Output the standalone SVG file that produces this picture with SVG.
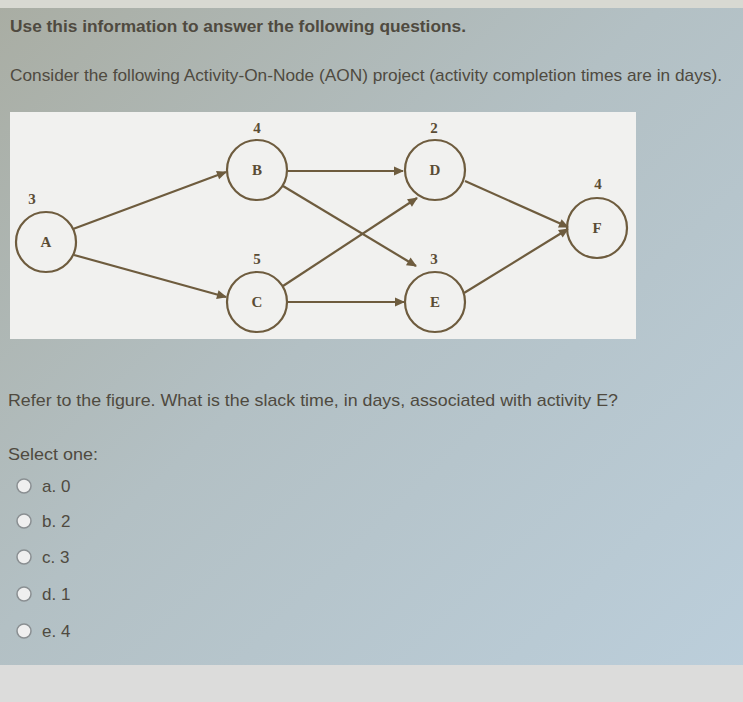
<svg xmlns="http://www.w3.org/2000/svg" width="743" height="702" viewBox="0 0 743 702">
<defs>
<linearGradient id="bg" x1="0" y1="0" x2="1" y2="1">
<stop offset="0" stop-color="#a9ada3"/>
<stop offset="0.45" stop-color="#b3c0c4"/>
<stop offset="1" stop-color="#bccfdc"/>
</linearGradient>
<marker id="ah" viewBox="0 0 10 10" refX="9" refY="5" markerWidth="11" markerHeight="10" markerUnits="userSpaceOnUse" orient="auto">
<path d="M0,0.5 L10,5 L0,9.5 z" fill="#6e5c3e"/>
</marker>
<style>
.t{font-family:"Liberation Sans",Arial,sans-serif;fill:#4f4a40}
.nd{fill:none;stroke:#6e5c3e;stroke-width:2.2}
.lb{font-family:"Liberation Serif","Times New Roman",serif;font-size:15px;font-weight:bold;fill:#5a4c34;text-anchor:middle}
.cn line{stroke:#6e5c3e;stroke-width:2.2;marker-end:url(#ah)}
.rd{fill:#efefef;stroke:#8a8f92;stroke-width:1.5}
</style>
</defs>
<rect width="743" height="702" fill="url(#bg)"/>
<rect x="0" y="0" width="743" height="8" fill="#d8d9d2"/>
<rect x="0" y="665" width="743" height="37" fill="#dcdcdb"/>
<text class="t" x="10" y="32" font-size="17" font-weight="bold" textLength="456" lengthAdjust="spacingAndGlyphs">Use this information to answer the following questions.</text>
<text class="t" x="10" y="81" font-size="17" textLength="712" lengthAdjust="spacingAndGlyphs">Consider the following Activity-On-Node (AON) project (activity completion times are in days).</text>
<rect x="10" y="112" width="626" height="227" fill="#f1f1ef"/>
<g class="cn">
<line x1="73" y1="229" x2="226" y2="172"/>
<line x1="74" y1="255" x2="226" y2="297"/>
<line x1="288" y1="171" x2="403" y2="171"/>
<line x1="283" y1="186" x2="416" y2="266"/>
<line x1="283" y1="286" x2="417" y2="198"/>
<line x1="288" y1="302" x2="404" y2="302"/>
<line x1="465" y1="181" x2="568" y2="227"/>
<line x1="464" y1="293" x2="568" y2="229"/>
</g>
<g id="A"><circle class="nd" cx="46" cy="242" r="30"/><text class="lb" x="46" y="247">A</text><text class="lb" x="32" y="204">3</text></g>
<g id="B"><circle class="nd" cx="257" cy="170" r="30"/><text class="lb" x="257" y="175">B</text><text class="lb" x="257" y="133">4</text></g>
<g id="D"><circle class="nd" cx="435" cy="170" r="30"/><text class="lb" x="435" y="175">D</text><text class="lb" x="434" y="133">2</text></g>
<g id="C"><circle class="nd" cx="257" cy="302" r="30"/><text class="lb" x="257" y="307">C</text><text class="lb" x="257" y="264">5</text></g>
<g id="E"><circle class="nd" cx="435" cy="302" r="30"/><text class="lb" x="435" y="307">E</text><text class="lb" x="434" y="264">3</text></g>
<g id="F"><circle class="nd" cx="597" cy="228" r="30"/><text class="lb" x="597" y="233">F</text><text class="lb" x="598" y="189">4</text></g>
<text class="t" x="8" y="406" font-size="17" textLength="610" lengthAdjust="spacingAndGlyphs">Refer to the figure. What is the slack time, in days, associated with activity E?</text>
<text class="t" x="8" y="460" font-size="17" textLength="90" lengthAdjust="spacingAndGlyphs">Select one:</text>
<circle class="rd" cx="24" cy="486" r="7"/><text class="t" x="42" y="492" font-size="17">a. 0</text>
<circle class="rd" cx="24" cy="521" r="7"/><text class="t" x="42" y="527" font-size="17">b. 2</text>
<circle class="rd" cx="24" cy="557" r="7"/><text class="t" x="42" y="563" font-size="17">c. 3</text>
<circle class="rd" cx="24" cy="594" r="7"/><text class="t" x="42" y="600" font-size="17">d. 1</text>
<circle class="rd" cx="24" cy="631" r="7"/><text class="t" x="42" y="637" font-size="17">e. 4</text>
</svg>
